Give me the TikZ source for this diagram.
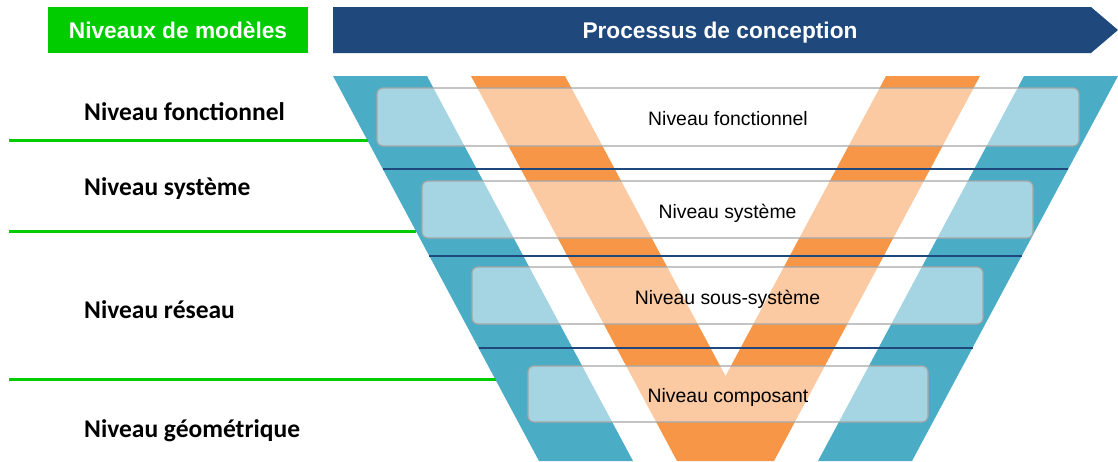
\documentclass[tikz,border=0pt]{standalone}
\usepackage{fontspec}
\setmainfont{Liberation Sans}
\newfontfamily\calib{Carlito}
\definecolor{bandblue}{HTML}{4BACC6}
\definecolor{bandorange}{HTML}{F79646}
\definecolor{hdrgreen}{HTML}{00CC00}
\definecolor{navy}{HTML}{1F497D}
\definecolor{boxgray}{HTML}{A6A6A6}
\begin{document}
\begin{tikzpicture}[x=1pt,y=-1pt,
  hdrtext/.style={text=white,font=\fontsize{22.7}{26}\selectfont\bfseries},
  lefttext/.style={anchor=base west,font=\calib\fontsize{25.5}{30}\selectfont\bfseries,inner sep=0pt},
  greenline/.style={draw=hdrgreen,line width=2.2pt},
  navyline/.style={draw=navy,line width=1.4pt},
  levelbox/.style={draw=boxgray,line width=1.2pt,rounded corners=6pt,fill=white,fill opacity=0.5,text opacity=1,
    inner sep=0pt,text height=17.2pt,text depth=0pt,font=\fontsize{19.4}{23}\selectfont}]
\useasboundingbox (0,0) rectangle (1118,461);
\begin{scope}
\clip (0,0) rectangle (1118,461);
% bands
\fill[bandblue] (333,76) -- (427,76) -- (633,461) -- (539,461) -- cycle;
\fill[bandblue] (1024,76) -- (1118,76) -- (912,461) -- (818,461) -- cycle;
\fill[bandorange] (471,76) -- (565,76) -- (725.5,376) -- (886,76) -- (980,76) -- (774,461) -- (677,461) -- cycle;
% navy separators
\draw[navyline] (382.8,169) -- (1068.2,169);
\draw[navyline] (429.3,256) -- (1021.7,256);
\draw[navyline] (478.5,348) -- (972.5,348);
\end{scope}
% header
\node[fill=hdrgreen,minimum width=260pt,minimum height=46pt,inner sep=0pt] (hmod) at (178,30) {};
\node[hdrtext,anchor=base] (hmodt) at (178,38) {Niveaux de modèles};
\fill[navy] (333,7) -- (1091,7) -- (1118,30) -- (1091,53) -- (333,53) -- cycle;
\node[hdrtext,anchor=base] (hproc) at (720,38) {Processus de conception};
% left labels
\node[lefttext] (lfonc) at (84,120) {Niveau fonctionnel};
\node[lefttext] (lsys) at (84,195) {Niveau système};
\node[lefttext] (lres) at (84,318.5) {Niveau réseau};
\node[lefttext] (lgeo) at (84,437) {Niveau géométrique};
% green separators
\draw[greenline] (9,140.5) -- (367.5,140.5);
\draw[greenline] (9,231.5) -- (416,231.5);
\draw[greenline] (9,379.5) -- (495.5,379.5);
% level boxes
\node[levelbox,minimum width=702pt,minimum height=58pt] (bfonc) at (728,117) {Niveau fonctionnel};
\node[levelbox,minimum width=611pt,minimum height=57pt] (bsys) at (727.5,209.5) {Niveau système};
\node[levelbox,minimum width=511pt,minimum height=57pt] (bsous) at (727.5,295.5) {Niveau sous-système};
\node[levelbox,minimum width=400pt,minimum height=56pt] (bcomp) at (728,394) {Niveau composant};
\end{tikzpicture}
\end{document}
